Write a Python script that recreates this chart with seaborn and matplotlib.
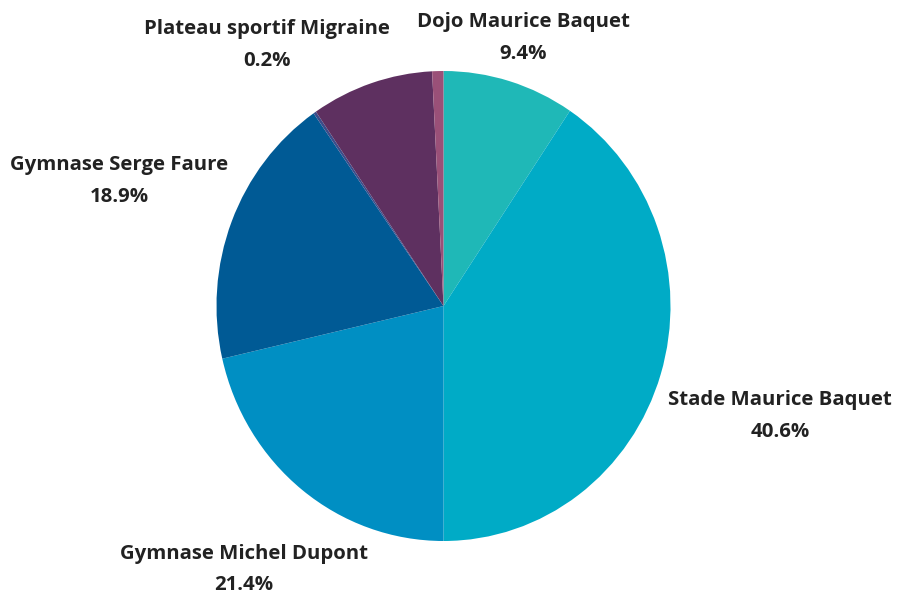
import numpy as np
import matplotlib.pyplot as plt
import seaborn as sns

# données (répartition par équipement)
sites = ['Dojo Maurice Baquet', 'Stade Maurice Baquet', 'Gymnase Michel Dupont',
         'Gymnase Serge Faure', 'Plateau sportif Migraine', '', '']
parts = [9.4, 40.6, 21.4, 18.9, 0.2, 8.7, 0.8]
pct_labels = ['9.4%', '40.6%', '21.4%', '18.9%', '0.2%', '', '']
colors = ['#1fb8b7', '#00abc6', '#008fc3', '#005a95', '#3b4c8a', '#5e3060', '#9a5078']

# distance des étiquettes (en rayon)
label_r = [1.21, 1.55, 1.41, 1.53, 1.37, 0, 0]

sns.set_theme(style='white')
plt.rcParams['font.family'] = ['Open Sans', 'DejaVu Sans']

fig = plt.figure(figsize=(9.11, 5.95), dpi=100)
ax = fig.add_axes([0.0, 0.0, 1.0, 1.0])

wedges, _ = ax.pie(parts, colors=colors, startangle=90, counterclock=False,
                   wedgeprops=dict(linewidth=0))

for w, name, pct, r in zip(wedges, sites, pct_labels, label_r):
    if not name:
        continue
    mid = np.deg2rad((w.theta1 + w.theta2) / 2)
    ax.text(r * np.cos(mid), r * np.sin(mid) - 0.018, name + '\n' + pct,
            ha='center', va='center', fontsize=14.7, fontweight='bold',
            color='#222222', linespacing=1.78)

# centre (443.5,306), rayon ~227 px en x, 235 px en y
ax.set_xlim(-443.5 / 227, (911 - 443.5) / 227)
ax.set_ylim(-(595 - 306) / 235, 306 / 235)
ax.set_aspect('auto')
ax.axis('off')

fig.savefig('out.png', dpi=100)
